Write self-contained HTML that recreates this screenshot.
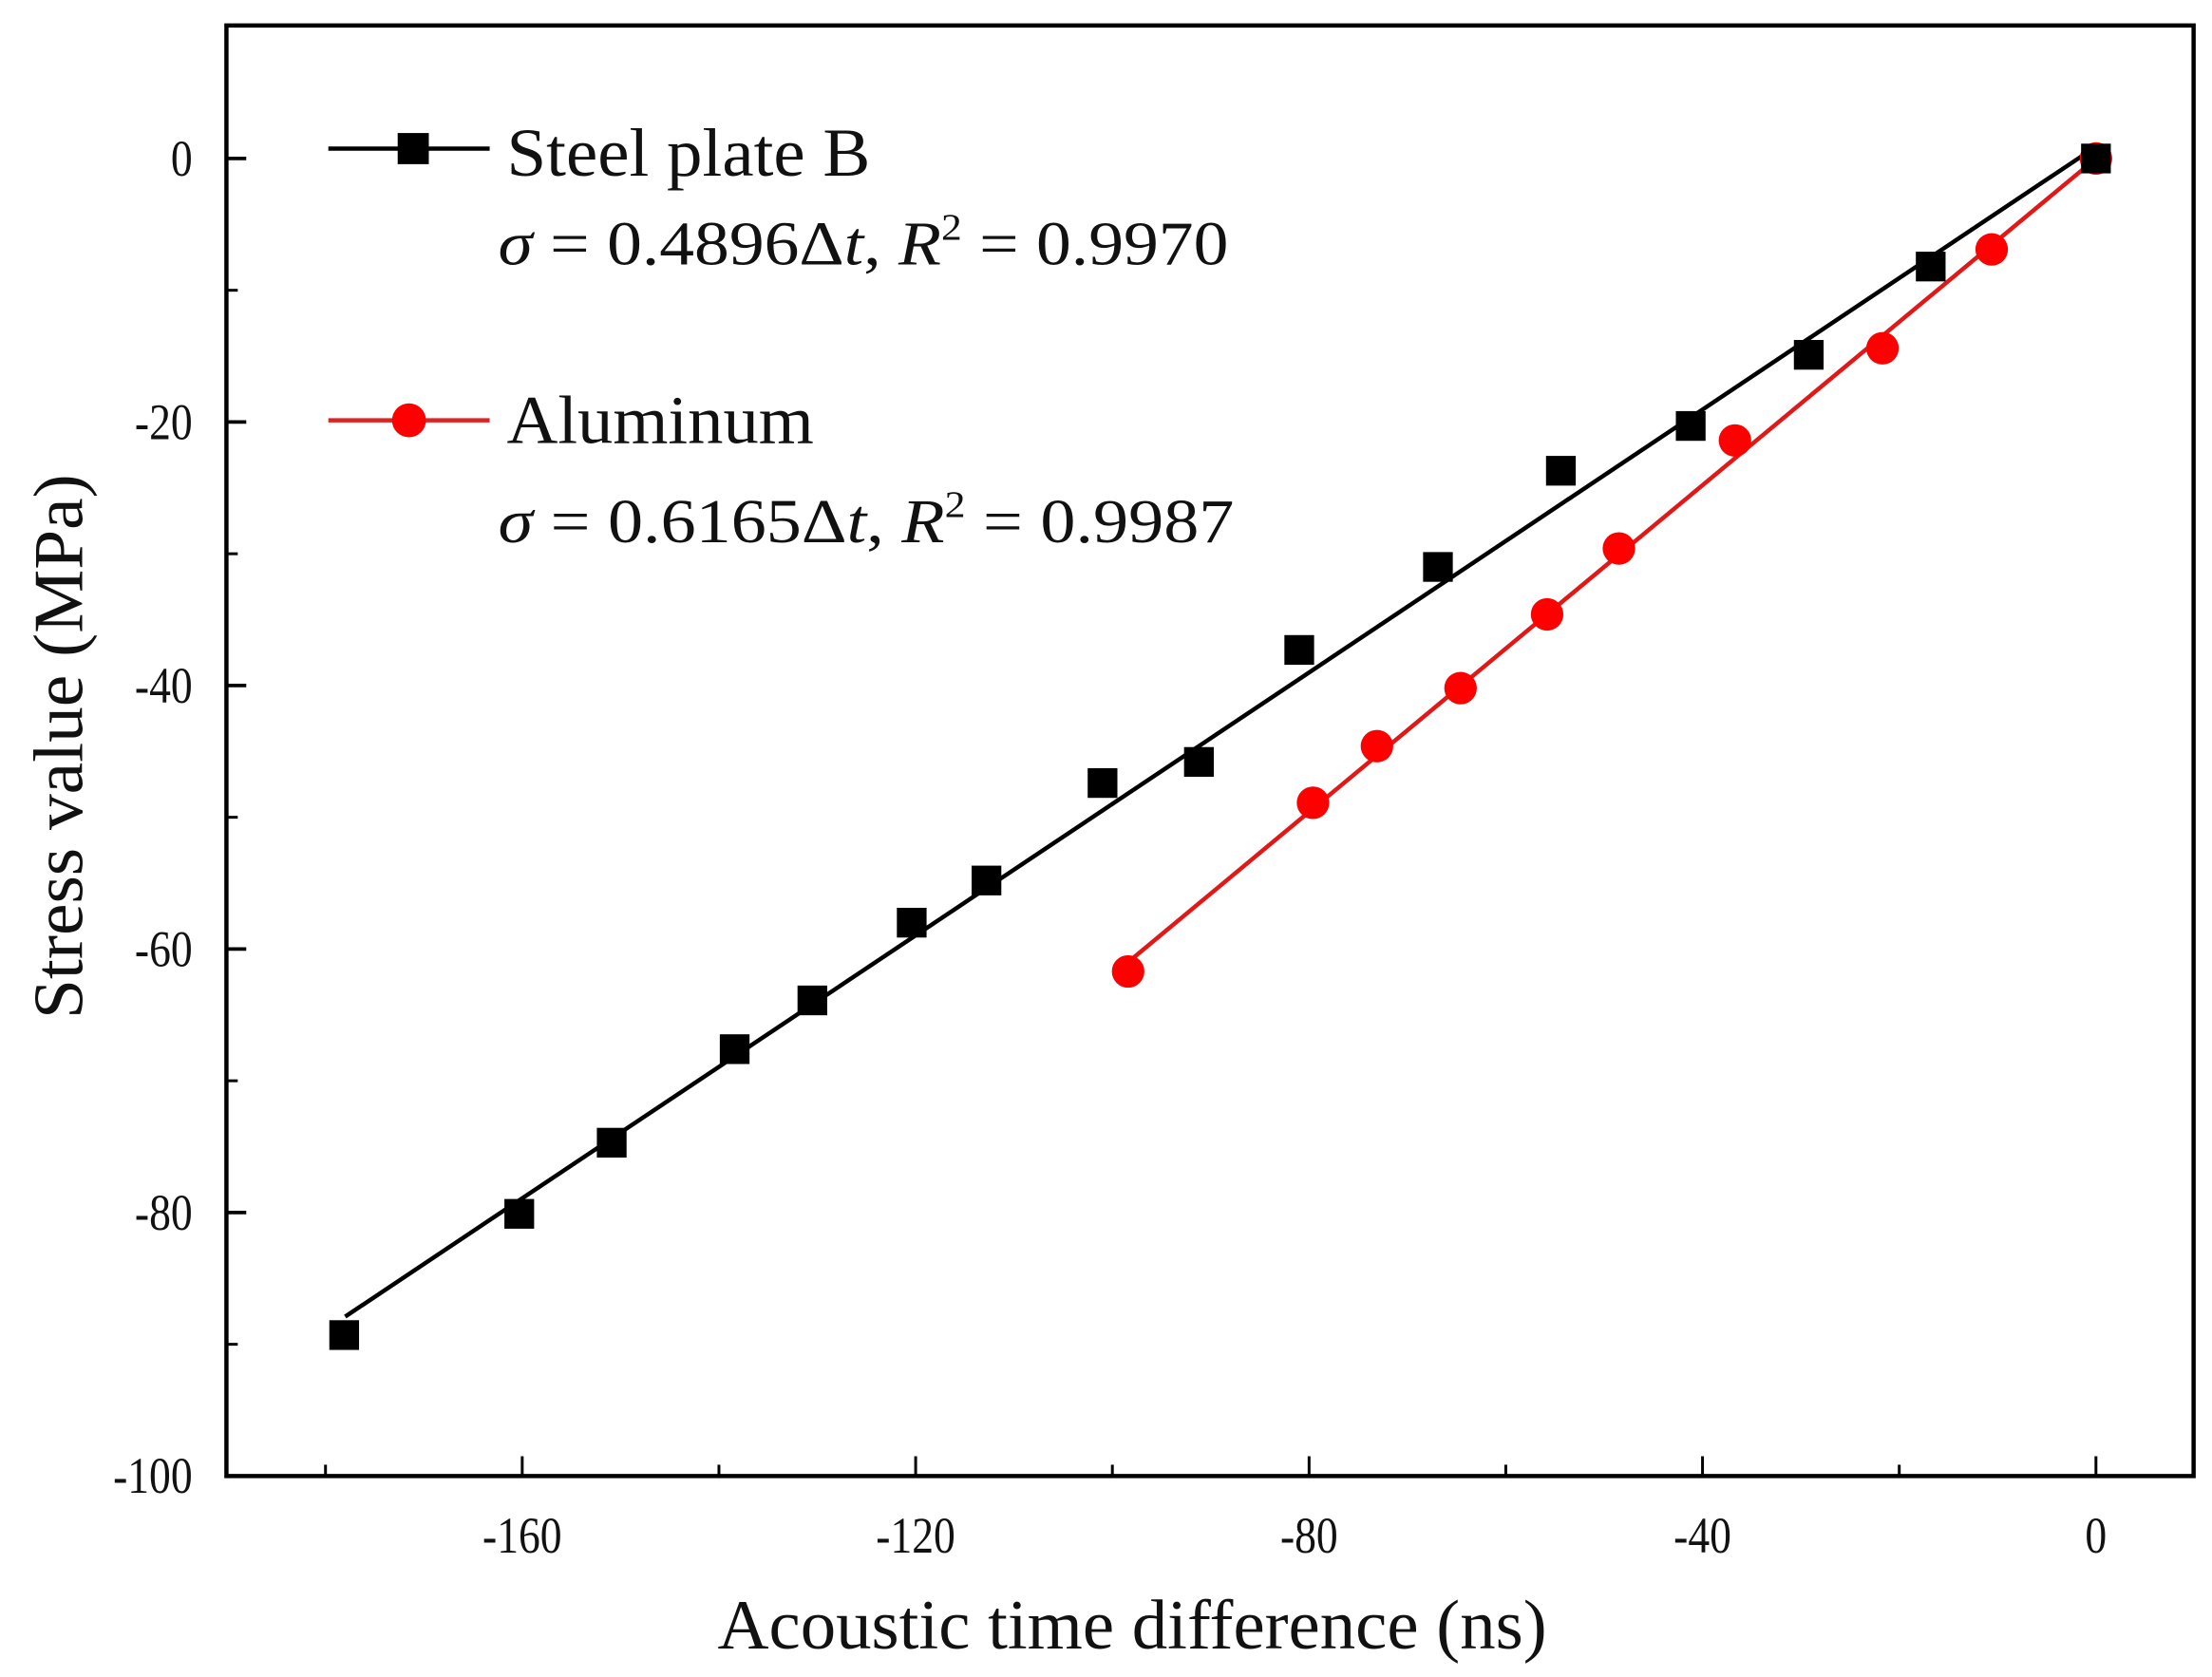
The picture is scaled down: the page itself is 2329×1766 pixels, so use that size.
<!DOCTYPE html>
<html><head><meta charset="utf-8"><style>
html,body{margin:0;padding:0;background:#fff}
svg{display:block}
text{font-family:"Liberation Serif",serif;fill:#111}
</style></head><body>
<svg id="chart" width="2329" height="1766" viewBox="0 0 1563 1185" preserveAspectRatio="none" xmlns="http://www.w3.org/2000/svg">
<rect x="160" y="18" width="1390" height="1025" fill="none" stroke="#000" stroke-width="3"/>
<g id="axes"></g>
<g id="series"></g>
<text x="507" y="1165" font-size="50" textLength="586" lengthAdjust="spacingAndGlyphs">Acoustic time difference (ns)</text>
<text transform="translate(58,720) rotate(-90)" font-size="50" textLength="385" lengthAdjust="spacingAndGlyphs">Stress value (MPa)</text>
<g>
<line x1="232" y1="105" x2="346" y2="105" stroke="#000" stroke-width="3"/>
<rect x="281" y="94" width="22" height="22" fill="#000"/>
<text x="358" y="124" font-size="48" textLength="257" lengthAdjust="spacingAndGlyphs">Steel plate B</text>
<text x="352" y="187" font-size="44" textLength="516" lengthAdjust="spacingAndGlyphs"><tspan font-style="italic">σ</tspan> = 0.4896Δ<tspan font-style="italic">t</tspan>,   <tspan font-style="italic">R</tspan><tspan font-size="26" dy="-18">2</tspan><tspan dy="18"> = 0.9970</tspan></text>
<line x1="232" y1="297" x2="346" y2="297" stroke="#d22" stroke-width="3"/>
<circle cx="289" cy="297" r="12" fill="#f00"/>
<text x="358" y="313" font-size="48" textLength="217" lengthAdjust="spacingAndGlyphs">Aluminum</text>
<text x="352" y="383" font-size="44" textLength="520" lengthAdjust="spacingAndGlyphs"><tspan font-style="italic">σ</tspan> = 0.6165Δ<tspan font-style="italic">t</tspan>,   <tspan font-style="italic">R</tspan><tspan font-size="26" dy="-18">2</tspan><tspan dy="18"> = 0.9987</tspan></text>
</g>
</svg>
<script>
const xTicks=[-160,-120,-80,-40,0];
const xMinor=[-180,-140,-100,-60,-20];
const yTicks=[0,-20,-40,-60,-80,-100];
const yMinor=[-10,-30,-50,-70,-90];
const steelX=[-178.1,-160.3,-150.9,-138.4,-130.5,-120.4,-112.8,-101,-91.2,-81,-66.9,-54.4,-41.2,-29.2,-16.8,0];
const steelY=[-89.3,-80.1,-74.7,-67.6,-63.9,-58,-54.8,-47.4,-45.8,-37.3,-31,-23.7,-20.3,-14.9,-8.2,0];
const steelFitX=[-178,0];
const steelFitY=[-87.9,0.9];
const aluX=[-98.4,-79.6,-73.1,-64.6,-55.8,-48.5,-36.7,-21.7,-10.6,0];
const aluY=[-61.7,-48.9,-44.6,-40.2,-34.6,-29.6,-21.4,-14.4,-6.9,0];
const aluFitX=[-98.4,0];
const aluFitY=[-61,0];
const NS="http://www.w3.org/2000/svg";
function sx(v){return 1481+v*6.95;}
function sy(v){return 112-v*9.31;}
function mk(tag,attrs,parent){const e=document.createElementNS(NS,tag);for(const k in attrs)e.setAttribute(k,attrs[k]);parent.appendChild(e);return e;}
const axes=document.getElementById('axes'),series=document.getElementById('series');
xTicks.forEach(v=>{const l=mk('line',{x1:sx(v),x2:sx(v),y1:1043,y2:1029,stroke:'#000','stroke-width':2},axes);


const t=mk('text',{x:sx(v),y:1097,'font-size':36,'text-anchor':'middle',transform:'translate('+sx(v)+',0) scale(0.85,1) translate('+(-sx(v))+',0)'},axes);t.textContent=v;

});
xMinor.forEach(v=>{const l=mk('line',{x1:sx(v),x2:sx(v),y1:1043,y2:1035,stroke:'#000','stroke-width':2},axes);

});
yTicks.forEach(v=>{const l=mk('line',{x1:160,x2:174,y1:sy(v),y2:sy(v),stroke:'#000','stroke-width':2.5},axes);


const t=mk('text',{x:136,y:sy(v)+12,'font-size':36,'text-anchor':'end',transform:'translate(136,0) scale(0.85,1) translate(-136,0)'},axes);t.textContent=v;

});
yMinor.forEach(v=>{const l=mk('line',{x1:160,x2:168,y1:sy(v),y2:sy(v),stroke:'#000','stroke-width':2},axes);

});
const sf=mk('line',{x1:sx(steelFitX[0]),y1:sy(steelFitY[0]),x2:sx(steelFitX[1]),y2:sy(steelFitY[1]),stroke:'#000','stroke-width':3},series);


const af=mk('line',{x1:sx(aluFitX[0]),y1:sy(aluFitY[0]),x2:sx(aluFitX[1]),y2:sy(aluFitY[1]),stroke:'#e01818','stroke-width':3},series);


aluX.forEach((v,i)=>{const c=mk('circle',{cx:sx(v),cy:sy(aluY[i]),r:11.5,fill:'#f00'},series);

});
steelX.forEach((v,i)=>{const r=mk('rect',{x:sx(v)-10.5,y:sy(steelY[i])-10.5,width:21,height:21,fill:'#000'},series);

});
</script>
</body></html>
